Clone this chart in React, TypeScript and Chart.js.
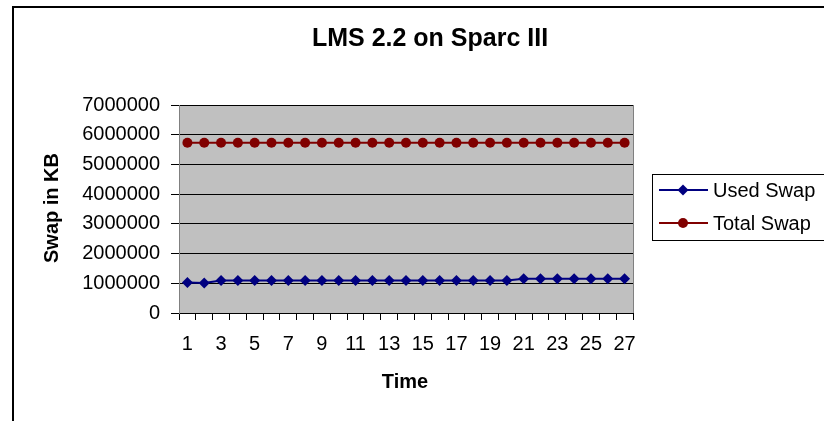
import React, { useEffect, useRef } from "react";
import { Chart, registerables } from "chart.js";

Chart.register(...registerables);

const categories: string[] = Array.from({ length: 27 }, (_, i) => String(i + 1));
const usedSwap: number[] = [
  1030000, 1010000, 1090000, 1090000, 1090000, 1090000, 1090000, 1090000, 1090000,
  1090000, 1090000, 1090000, 1090000, 1090000, 1090000, 1090000, 1090000, 1090000,
  1090000, 1090000, 1155000, 1155000, 1155000, 1155000, 1155000, 1155000, 1155000,
];
const totalSwap: number[] = [
  5730000, 5730000, 5730000, 5730000, 5730000, 5730000, 5730000, 5730000, 5730000,
  5730000, 5730000, 5730000, 5730000, 5730000, 5730000, 5730000, 5730000, 5730000,
  5730000, 5730000, 5730000, 5730000, 5730000, 5730000, 5730000, 5730000, 5730000,
];
const seriesNames: string[] = ["Used Swap", "Total Swap"];
const titleText = "LMS 2.2 on Sparc III";
const xTitle = "Time";
const yTitle = "Swap in KB";

const FONT = "'Liberation Sans', Arial, Helvetica, sans-serif";

const decorPlugin = {
  id: "decor",
  beforeDraw(chart: any) {
    const { ctx, chartArea: a } = chart;
    ctx.save();
    ctx.fillStyle = "#ffffff";
    ctx.fillRect(0, 0, chart.width, chart.height);
    ctx.fillStyle = "#C0C0C0";
    ctx.fillRect(a.left, a.top, a.right - a.left, a.bottom - a.top);
    ctx.restore();
  },
  beforeDatasetsDraw(chart: any) {
    const { ctx, chartArea: a } = chart;
    ctx.save();
    ctx.strokeStyle = "#808080";
    ctx.lineWidth = 1;
    ctx.beginPath();
    ctx.moveTo(Math.round(a.right) + 0.5, a.top);
    ctx.lineTo(Math.round(a.right) + 0.5, a.bottom);
    ctx.stroke();
    ctx.restore();
  },
  afterDraw(chart: any) {
    const { ctx } = chart;
    ctx.save();
    // outer frame
    ctx.fillStyle = "#000";
    ctx.fillRect(12, 6, 2, chart.height - 6);
    ctx.fillRect(12, 6, chart.width - 12, 2);
    // title
    ctx.fillStyle = "#000";
    ctx.textAlign = "center";
    ctx.textBaseline = "middle";
    ctx.font = `bold 25px ${FONT}`;
    ctx.fillText(titleText, 430, 39);
    // x title
    ctx.font = `bold 20px ${FONT}`;
    ctx.fillText(xTitle, 405, 382);
    // y title
    ctx.save();
    ctx.translate(52, 208);
    ctx.rotate(-Math.PI / 2);
    ctx.fillText(yTitle, 0, 0);
    ctx.restore();
    // legend
    ctx.strokeStyle = "#000";
    ctx.lineWidth = 1;
    ctx.strokeRect(652.5, 174.5, 220, 66);
    const rows = [190, 223];
    chart.data.datasets.forEach((ds: any, i: number) => {
      const y = rows[i];
      ctx.strokeStyle = ds.borderColor;
      ctx.lineWidth = 2;
      ctx.beginPath();
      ctx.moveTo(659, y);
      ctx.lineTo(708, y);
      ctx.stroke();
      ctx.fillStyle = ds.pointBackgroundColor;
      ctx.beginPath();
      if (ds.pointStyle === "rectRot") {
        const r = 5.5;
        ctx.moveTo(683 - r, y);
        ctx.lineTo(683, y - r);
        ctx.lineTo(683 + r, y);
        ctx.lineTo(683, y + r);
        ctx.closePath();
      } else {
        ctx.arc(683, y, 5, 0, Math.PI * 2);
      }
      ctx.fill();
      ctx.fillStyle = "#000";
      ctx.textAlign = "left";
      ctx.textBaseline = "middle";
      ctx.font = `20px ${FONT}`;
      ctx.fillText(ds.label, 713, y + 1);
    });
    ctx.restore();
  },
};

export default function App() {
  const ref = useRef<HTMLCanvasElement | null>(null);
  useEffect(() => {
    if (!ref.current) return;
    const chart = new Chart(ref.current, {
      type: "line",
      data: {
        labels: categories,
        datasets: [
          {
            label: seriesNames[0],
            data: usedSwap,
            borderColor: "#000080",
            backgroundColor: "#000080",
            pointBackgroundColor: "#000080",
            pointBorderColor: "#000080",
            pointStyle: "rectRot",
            pointRadius: 5.5,
            pointBorderWidth: 0,
            borderWidth: 2,
            tension: 0,
          },
          {
            label: seriesNames[1],
            data: totalSwap,
            borderColor: "#800000",
            backgroundColor: "#800000",
            pointBackgroundColor: "#800000",
            pointBorderColor: "#800000",
            pointStyle: "circle",
            pointRadius: 5,
            pointBorderWidth: 0,
            borderWidth: 2,
            tension: 0,
          },
        ],
      },
      options: {
        animation: false,
        responsive: false,
        devicePixelRatio: 1,
        layout: { padding: { top: 105, right: 191, left: 0, bottom: 0 } },
        plugins: {
          legend: { display: false },
          title: { display: false },
          tooltip: { enabled: false },
        },
        scales: {
          x: {
            type: "category",
            offset: true,
            afterFit: (s: any) => {
              s.height = 108;
            },
            grid: {
              offset: true,
              drawOnChartArea: false,
              drawTicks: true,
              tickLength: 7,
              color: "#000",
            },
            border: { display: true, color: "#000" },
            ticks: {
              autoSkip: false,
              maxRotation: 0,
              minRotation: 0,
              padding: 12,
              color: "#000",
              font: { family: FONT, size: 20 },
              callback: (_v: any, i: number) => (i % 2 === 0 ? categories[i] : ""),
            },
          },
          y: {
            min: 0,
            max: 7000000,
            afterFit: (s: any) => {
              s.width = 179;
            },
            grid: {
              color: "#000",
              lineWidth: 1,
              drawTicks: true,
              tickLength: 8,
            },
            border: { display: true, color: "#808080" },
            ticks: {
              stepSize: 1000000,
              padding: 11,
              color: "#000",
              font: { family: FONT, size: 20 },
              callback: (v: any) => String(v),
            },
          },
        },
      },
      plugins: [decorPlugin],
    });
    return () => chart.destroy();
  }, []);
  return (
    <div style={{ position: "fixed", left: 0, top: 0, width: 824, height: 421 }}>
      <canvas ref={ref} width={824} height={421} style={{ display: "block", width: 824, height: 421 }} />
    </div>
  );
}
